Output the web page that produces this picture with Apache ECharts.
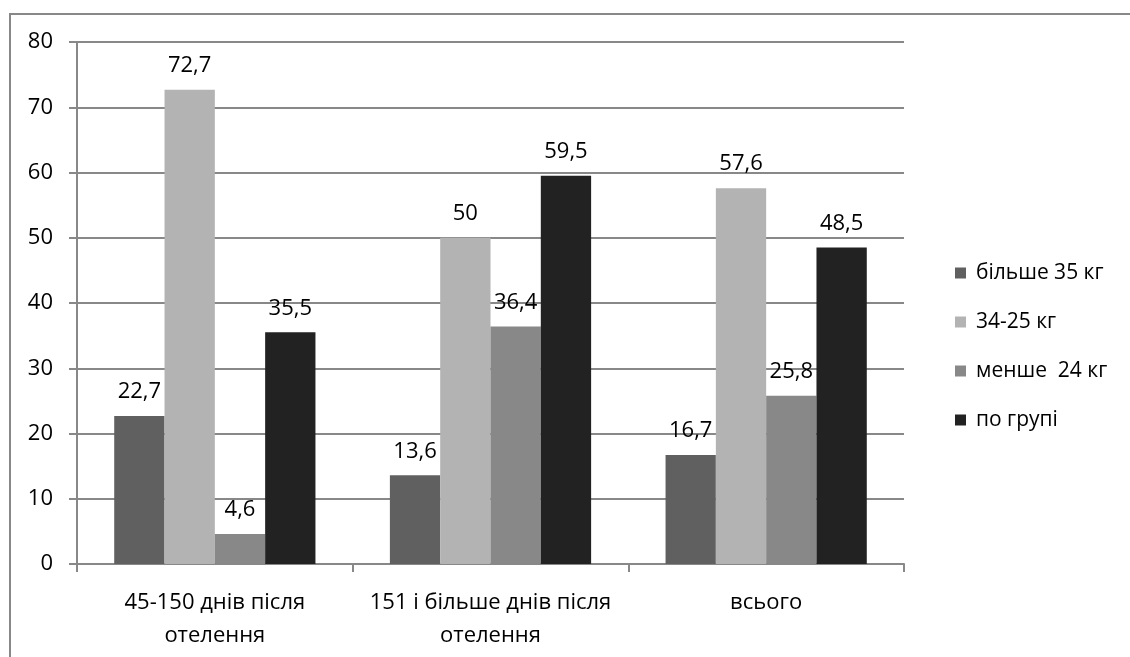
<!DOCTYPE html>
<html><head><meta charset="utf-8">
<script src="https://cdn.jsdelivr.net/npm/echarts@6/dist/echarts.min.js"></script>
<style>html,body{margin:0;padding:0;background:#fff}#c{width:1130px;height:657px}</style>
</head><body><div id="c"></div>
<script>
const categories = ['45-150 днів після\nотелення', '151 і більше днів після\nотелення', 'всього'];
const seriesNames = ['більше 35 кг', '34-25 кг', 'менше  24 кг', 'по групі'];
const s1 = [22.7, 13.6, 16.7];
const s2 = [72.7, 50, 57.6];
const s3 = [4.6, 36.4, 25.8];
const s4 = [35.5, 59.5, 48.5];
const yTicks = [0, 10, 20, 30, 40, 50, 60, 70, 80];
const colors = ['#606060', '#b3b3b3', '#888888', '#222222'];
const font = 'Open Sans';

const chart = echarts.init(document.getElementById('c'));
const mk = (name, data, color) => ({
  name, type: 'bar', data, barGap: 0, barCategoryGap: '27%',
  itemStyle: { color },
  label: { show: true, position: 'top', distance: 13, color: '#000', fontFamily: font, fontSize: 22,
    formatter: p => String(p.value).replace('.', ',') }
});
chart.setOption({
  animation: false,
  textStyle: { fontFamily: font },
  graphic: [{ type: 'rect', shape: { x: 10, y: 14, width: 1300, height: 1000 },
    style: { fill: 'none', stroke: '#888', lineWidth: 2 }, silent: true }],
  grid: { left: 77, right: 226, top: 42, bottom: 93 },
  legend: {
    orient: 'vertical', left: 950, top: 257, itemWidth: 11, itemHeight: 11, itemGap: 27,
    icon: 'rect',
    textStyle: { fontFamily: font, fontSize: 21, color: '#000', lineHeight: 22, padding: [0, 0, 0, 5] },
    data: seriesNames
  },
  xAxis: {
    type: 'category', data: categories,
    axisLine: { lineStyle: { color: '#888', width: 2 } },
    axisTick: { show: true, length: 8, lineStyle: { color: '#888', width: 2 } },
    axisLabel: { interval: 0, hideOverlap: false, color: '#000', fontFamily: font, fontSize: 22, lineHeight: 33, margin: 22 }
  },
  yAxis: {
    type: 'value', min: 0, max: 80, interval: 10,
    axisLine: { show: true, lineStyle: { color: '#888', width: 2 } },
    axisTick: { show: true, length: 8, lineStyle: { color: '#888', width: 2 } },
    splitLine: { lineStyle: { color: '#888', width: 2 } },
    axisLabel: { color: '#000', fontFamily: font, fontSize: 22, margin: 24,
      formatter: v => yTicks.includes(v) ? String(v) : '' }
  },
  series: [mk(seriesNames[0], s1, colors[0]), mk(seriesNames[1], s2, colors[1]),
           mk(seriesNames[2], s3, colors[2]), mk(seriesNames[3], s4, colors[3])]
});
</script></body></html>
